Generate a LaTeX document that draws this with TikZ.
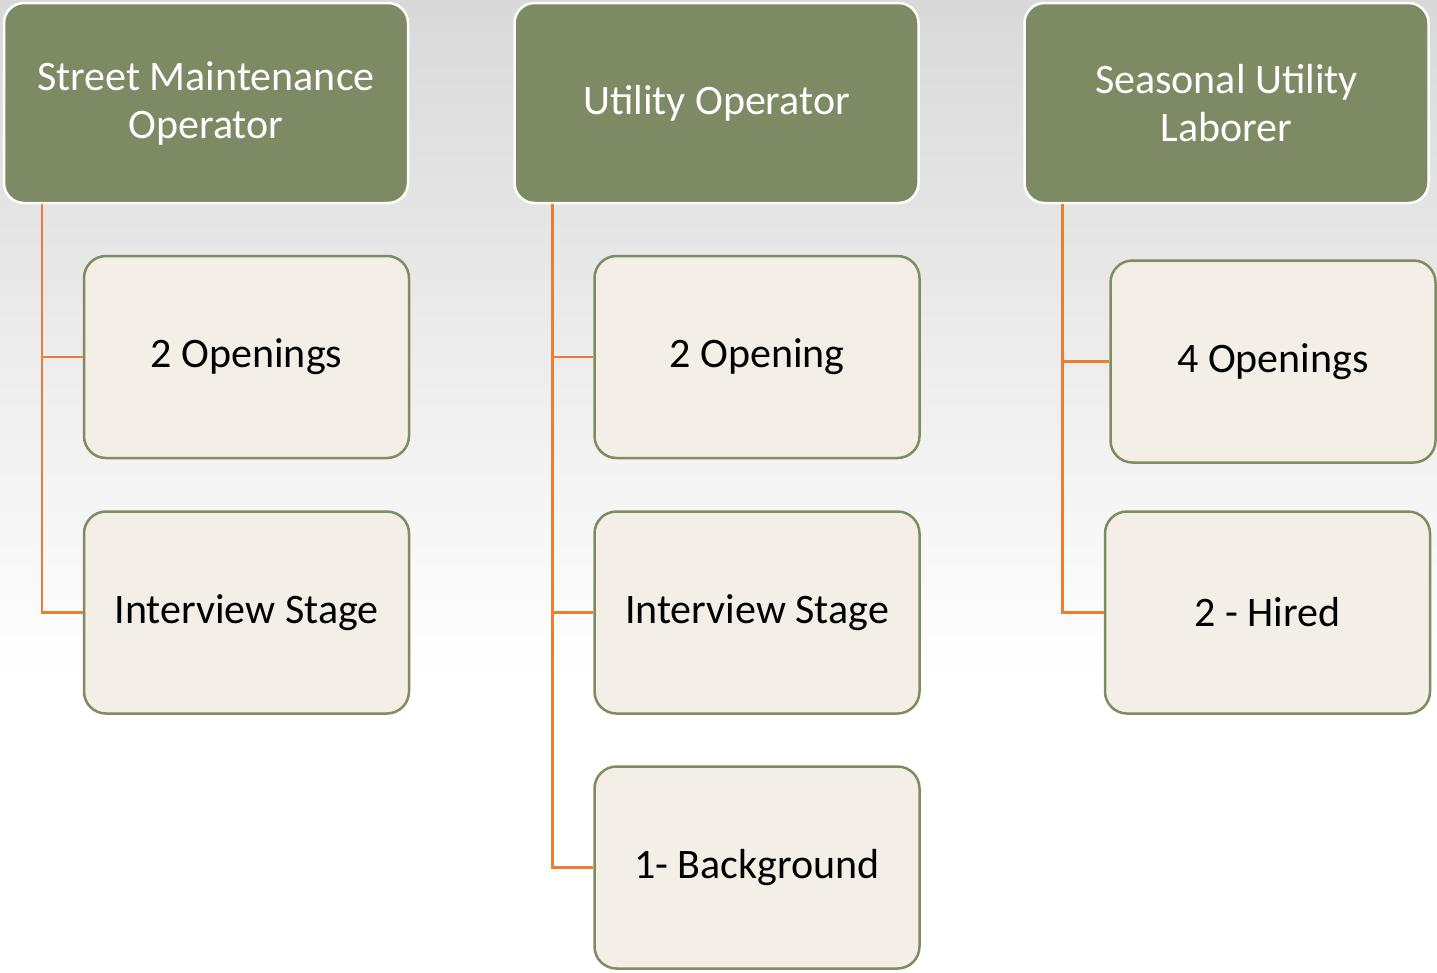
\documentclass[tikz,border=0pt]{standalone}
\usepackage{fontspec}
\setmainfont{Carlito}
\definecolor{headgreen}{HTML}{7D8A64}
\definecolor{edgegreen}{HTML}{7E8C60}
\definecolor{boxcream}{HTML}{F3EEE6}
\definecolor{linkorange}{HTML}{ED7D31}
\tikzset{
  headbox/.style={draw=white, line width=2.5pt, fill=headgreen, rounded corners=20pt,
    minimum width=404pt, minimum height=200pt, text=white, align=center,
    font=\fontsize{42}{48}\selectfont},
  itembox/.style={draw=edgegreen, line width=2.5pt, fill=boxcream, rounded corners=22pt,
    minimum width=325pt, minimum height=202pt, text=black, align=center,
    font=\fontsize{42}{48}\selectfont},
  link/.style={draw=linkorange, line width=2.5pt}
}
\begin{document}
\begin{tikzpicture}[x=1pt, y=-1pt]
      \useasboundingbox (0,0) rectangle (1437,972);
      \shade[top color=black!15, bottom color=white] (0,0) rectangle (1437,680);
      \fill[white] (0,680) rectangle (1437,972);

      \node[headbox] (street) at (206,103) {Street Maintenance\\Operator};
      \node[headbox] (utility) at (716.5,103) {Utility Operator};
      \node[headbox] (seasonal) at (1226.5,103) {Seasonal Utility\\Laborer};

      \node[itembox] (street open) at (246.5,357) {2 Openings};
      \node[itembox] (street interview) at (246.5,612.5) {Interview Stage};

      \node[itembox] (utility open) at (757,357) {2 Opening};
      \node[itembox] (utility interview) at (757,612.5) {Interview Stage};
      \node[itembox] (utility background) at (757,867.5) {1- Background};

      \node[itembox] (seasonal open) at (1273,361.5) {4 Openings};
      \node[itembox] (seasonal hired) at (1267.5,612.5) {2 - Hired};

      \draw[link] ([xshift=39pt]street.south west) |- (street open.west);
      \draw[link] ([xshift=39pt]street.south west) |- (street interview.west);

      \draw[link] ([xshift=39pt]utility.south west) |- (utility open.west);
      \draw[link] ([xshift=39pt]utility.south west) |- (utility interview.west);
      \draw[link] ([xshift=39pt]utility.south west) |- (utility background.west);

      \draw[link] ([xshift=39pt]seasonal.south west) |- (seasonal open.west);
      \draw[link] ([xshift=39pt]seasonal.south west) |- (seasonal hired.west);
    \end{tikzpicture}
\end{document}
